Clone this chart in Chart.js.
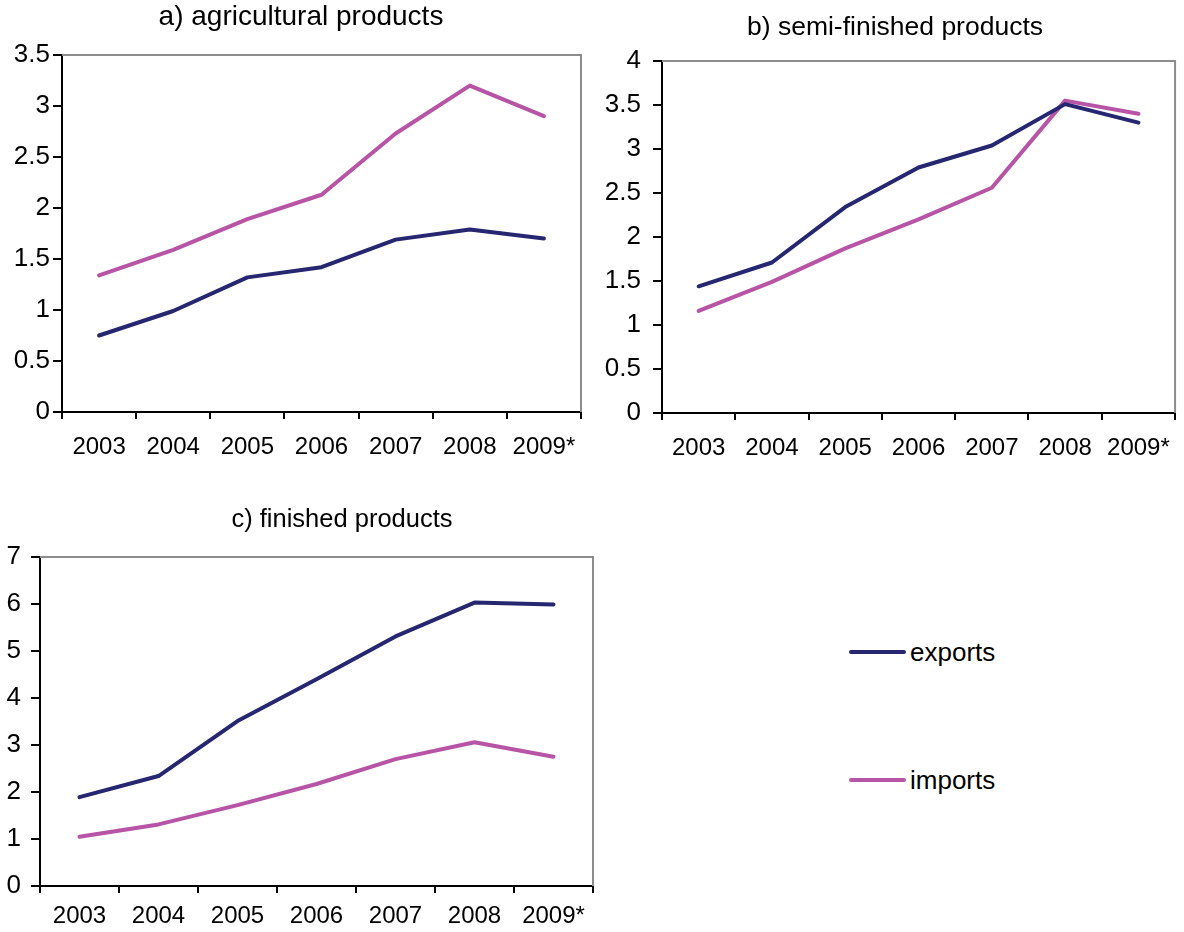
<!DOCTYPE html>
<html>
<head>
<meta charset="utf-8">
<title>Exports and imports by product group</title>
<script src="https://cdn.jsdelivr.net/npm/chart.js@4.4.0/dist/chart.umd.min.js"></script>
<style>
  body {
    margin: 0;
    width: 1184px;
    height: 932px;
    position: relative;
    overflow: hidden;
    background: #fff;
    font-family: "Liberation Sans", Arial, sans-serif;
  }
  canvas { position: absolute; }
  #chartA { left: 0; top: 0; }
  #chartB { left: 596px; top: 0; }
  #chartC { left: 0; top: 490px; }
  .key {
    position: absolute;
    left: 849px;
    height: 30px;
    line-height: 30px;
    font-size: 26px;
    color: #000;
    white-space: nowrap;
  }
  .key span {
    display: inline-block;
    width: 57px;
    height: 4px;
    border-radius: 2px;
    vertical-align: middle;
    margin-right: 4px;
    position: relative;
    top: -2px;
  }
</style>
</head>
<body>
<canvas id="chartA" width="602" height="470"></canvas>
<canvas id="chartB" width="588" height="470"></canvas>
<canvas id="chartC" width="684" height="442"></canvas>
<div class="key" style="top:637px"><span style="background:#262671"></span>exports</div>
<div class="key" style="top:765px"><span style="background:#b754a6"></span>imports</div>
<script>
const years = ['2003', '2004', '2005', '2006', '2007', '2008', '2009*'];

// a) agricultural products
const agriExports = [0.75, 0.99, 1.32, 1.42, 1.69, 1.79, 1.70];
const agriImports = [1.34, 1.59, 1.89, 2.13, 2.73, 3.20, 2.90];

// b) semi-finished products
const semiExports = [1.44, 1.71, 2.34, 2.79, 3.04, 3.51, 3.30];
const semiImports = [1.16, 1.49, 1.87, 2.20, 2.56, 3.55, 3.40];

// c) finished products
const finExports = [1.89, 2.34, 3.51, 4.40, 5.31, 6.03, 5.99];
const finImports = [1.05, 1.31, 1.72, 2.17, 2.70, 3.06, 2.75];

const exportsColor = '#262671';
const importsColor = '#b754a6';
const fontFamily = '"Liberation Sans", Arial, sans-serif';

// grey frame on the top and right edges of the plot area
const frame = {
  id: 'frame',
  afterDraw(chart) {
    const { ctx, chartArea: a } = chart;
    ctx.save();
    ctx.strokeStyle = '#8c8c8c';
    ctx.lineWidth = 2;
    ctx.beginPath();
    ctx.moveTo(a.left, a.top);
    ctx.lineTo(a.right, a.top);
    ctx.lineTo(a.right, a.bottom);
    ctx.stroke();
    ctx.restore();
  }
};

// chart heading, placed independently of the padded layout box
const heading = {
  id: 'heading',
  afterDraw(chart, args, opts) {
    const ctx = chart.ctx;
    ctx.save();
    ctx.fillStyle = '#000';
    ctx.font = opts.size + 'px ' + fontFamily;
    ctx.textAlign = 'center';
    ctx.textBaseline = 'middle';
    ctx.fillText(opts.text, opts.x, opts.y);
    ctx.restore();
  }
};

function series(label, data, color) {
  return {
    label: label,
    data: data,
    borderColor: color,
    backgroundColor: color,
    borderWidth: 4,
    pointRadius: 0,
    tension: 0,
    borderJoinStyle: 'round',
    borderCapStyle: 'round'
  };
}

function buildChart(id, title, exp, imp, yMax, yStep, box) {
  return new Chart(document.getElementById(id), {
    type: 'line',
    data: {
      labels: years,
      datasets: [
        series('exports', exp, exportsColor),
        series('imports', imp, importsColor)
      ]
    },
    options: {
      responsive: false,
      animation: false,
      devicePixelRatio: 1,
      layout: { padding: { left: 0, right: box.right, top: box.top, bottom: 0 } },
      plugins: {
        legend: { display: false },
        tooltip: { enabled: false },
        heading: { text: title, size: box.titleSize, x: box.titleX, y: box.titleY }
      },
      scales: {
        x: {
          offset: true,
          grid: {
            offset: true,
            drawOnChartArea: false,
            tickLength: 7,
            color: '#000',
            lineWidth: 2
          },
          border: { color: '#000', width: 2 },
          ticks: {
            color: '#000',
            font: { family: fontFamily, size: 24 },
            padding: box.xPad,
            maxRotation: 0,
            autoSkip: false
          },
          afterFit(scale) { scale.height = box.xHeight; }
        },
        y: {
          min: 0,
          max: yMax,
          grid: {
            drawOnChartArea: false,
            tickLength: 9,
            color: '#000',
            lineWidth: 2
          },
          border: { color: '#000', width: 2 },
          ticks: {
            stepSize: yStep,
            color: '#000',
            font: { family: fontFamily, size: 26 },
            padding: box.yPad,
            callback: v => String(v)
          },
          afterFit(scale) { scale.width = box.yWidth; }
        }
      }
    },
    plugins: [frame, heading]
  });
}

buildChart('chartA', 'a) agricultural products', agriExports, agriImports, 3.5, 0.5,
  { right: 21, top: 55, titleSize: 28, titleX: 301, titleY: 17,
    yWidth: 62, yPad: 3, xHeight: 58, xPad: 14 });
buildChart('chartB', 'b) semi-finished products', semiExports, semiImports, 4, 0.5,
  { right: 3, top: 61, titleSize: 26.5, titleX: 299, titleY: 28,
    yWidth: 66, yPad: 12, xHeight: 57, xPad: 14 });
buildChart('chartC', 'c) finished products', finExports, finImports, 7, 1,
  { right: 91, top: 67, titleSize: 25.5, titleX: 342, titleY: 30,
    yWidth: 40, yPad: 10, xHeight: 46, xPad: 9 });
</script>
</body>
</html>
